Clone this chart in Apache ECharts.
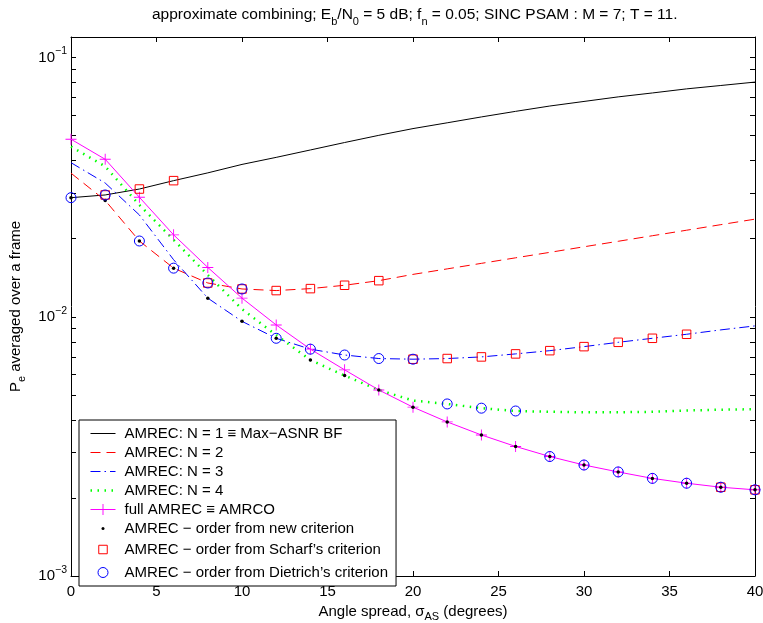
<!DOCTYPE html>
<html><head><meta charset="utf-8">
<script src="https://cdn.jsdelivr.net/npm/echarts@6/dist/echarts.min.js"></script>
<style>html,body{margin:0;padding:0;background:#fff}#c{width:763px;height:623px}</style>
</head><body><div id="c"></div>
<script>
const angleSpread = [0,2,4,6,8,10,12,14,16,18,20,22,24,26,28,30,32,34,36,38,40];
const amrecN1 = [0.0288,0.0295,0.0311,0.0335,0.0359,0.0387,0.0412,0.0440,0.0470,0.0501,0.0532,0.0560,0.0590,0.0620,0.0650,0.0677,0.0705,0.0730,0.0757,0.0780,0.0804];
const amrecN2 = [0.0358,0.0281,0.0196,0.0154,0.0135,0.0128,0.01262,0.01284,0.01323,0.01378,0.01457,0.0153,0.01607,0.01688,0.01772,0.01862,0.01955,0.02054,0.02157,0.02266,0.0238];
const amrecN3 = [0.0393,0.0328,0.0247,0.0166,0.0118,0.0096,0.00826,0.0075,0.00712,0.0069,0.00686,0.0069,0.0070,0.00719,0.0074,0.00767,0.00797,0.00826,0.00856,0.0089,0.00922];
const amrecN4 = [0.0453,0.0380,0.0270,0.0198,0.0145,0.0107,0.0085,0.00681,0.00593,0.00522,0.00475,0.00461,0.00444,0.00433,0.0043,0.00428,0.00428,0.0043,0.00435,0.00438,0.0044];
const amrecFull = [0.0484,0.0405,0.0289,0.0207,0.0155,0.0118,0.0093,0.0075,0.00624,0.00522,0.00448,0.00393,0.0035,0.00316,0.00289,0.00268,0.00252,0.00238,0.00228,0.0022,0.00215];
const orderNew = [0.0288,0.0281,0.0196,0.0154,0.0118,0.0096,0.00826,0.00681,0.00593,0.00522,0.00448,0.00393,0.0035,0.00316,0.00289,0.00268,0.00252,0.00238,0.00228,0.0022,0.00215];
const orderScharf = [null,0.0295,0.0311,0.0335,0.0135,0.0128,0.01262,0.01284,0.01323,0.01378,0.00686,0.0069,0.0070,0.00719,0.0074,0.00767,0.00797,0.00826,0.00856,0.0022,0.00215];
const orderDietrich = [0.0288,0.0295,0.0196,0.0154,0.0135,0.0128,0.00826,0.0075,0.00712,0.0069,0.00686,0.00461,0.00444,0.00433,0.00289,0.00268,0.00252,0.00238,0.00228,0.0022,0.00215];
const yTickValues = [0.001,0.002,0.003,0.004,0.005,0.006,0.007,0.008,0.009,0.01,0.02,0.03,0.04,0.05,0.06,0.07,0.08,0.09,0.1];
const yLabelValues = [0.001,0.01,0.1];
const seriesNames = ['AMREC: N = 1 \u2261 Max\u2212ASNR BF','AMREC: N = 2','AMREC: N = 3','AMREC: N = 4','full AMREC \u2261 AMRCO','AMREC \u2212 order from new criterion','AMREC \u2212 order from Scharf\u2019s criterion','AMREC \u2212 order from Dietrich\u2019s criterion'];

const FONT = '"Liberation Sans", Arial, Helvetica, sans-serif';
const pairs = arr => angleSpread.map((x,i)=>[x,arr[i]]).filter(p=>p[1]!=null);
const plusPath = 'path://M0,5.5L12,5.5L12,6.5L0,6.5Z M5.5,0L6.5,0L6.5,12L5.5,12Z';

const lineSeries = (name, arr, color, type, width) => ({
  name, type:'line', data: pairs(arr), symbol:'none', showSymbol:false, clip:false,
  lineStyle:{color, width, type, cap:'butt'}, itemStyle:{color}, silent:true, z:2
});

const chart = echarts.init(document.getElementById('c'), null, {renderer:'canvas'});
chart.setOption({
  animation:false,
  backgroundColor:'#fff',
  textStyle:{fontFamily:FONT},
  title:{
    text:'approximate combining; E{s|b}/N{s|0} = 5 dB; f{s|n} = 0.05; SINC PSAM : M = 7; T = 11.',
    left:152, top:2, padding:0,
    textStyle:{fontSize:15.5, fontWeight:'normal', color:'#000', fontFamily:FONT,
      rich:{s:{fontSize:11, color:'#000', fontFamily:FONT, padding:[14,0,0,0]}}}
  },
  grid:{left:71, right:8, top:37, bottom:47, containLabel:false, outerBoundsMode:'none'},
  xAxis:[{
    type:'value', min:0, max:40, interval:5, position:'bottom',
    axisLine:{show:true, onZero:false, lineStyle:{color:'#000', width:1}},
    axisTick:{show:true, inside:true, length:5, lineStyle:{color:'#000'}},
    axisLabel:{fontSize:15, color:'#000', margin:8, fontFamily:FONT},
    splitLine:{show:false},
    name:'Angle spread, \u03c3{s|AS} (degrees)', nameLocation:'middle', nameGap:21,
    nameTextStyle:{fontSize:15, color:'#000', fontFamily:FONT,
      rich:{s:{fontSize:11, color:'#000', fontFamily:FONT, padding:[12,0,0,0]}}}
  },{
    type:'value', min:0, max:40, interval:5, position:'top',
    axisLine:{show:true, onZero:false, lineStyle:{color:'#000', width:1}},
    axisTick:{show:true, inside:true, length:5, lineStyle:{color:'#000'}},
    axisLabel:{show:false}, splitLine:{show:false}
  }],
  yAxis:[{
    type:'log', logBase:10, min:0.001, max:0.12, position:'left',
    axisLine:{show:true, onZero:false, lineStyle:{color:'#000', width:1}},
    axisTick:{show:true, inside:true, length:5, lineStyle:{color:'#000'}, customValues:yTickValues},
    axisLabel:{customValues:yLabelValues, margin:4, color:'#000', fontFamily:FONT,
      formatter: v => '{b|10}{s|\u2212' + Math.abs(Math.round(Math.log10(v))) + '}',
      rich:{b:{fontSize:15, color:'#000', fontFamily:FONT}, s:{fontSize:10.5, color:'#000', fontFamily:FONT, padding:[0,0,12,0]}}},
    splitLine:{show:false}, minorTick:{show:false},
    name:'P{s|e} averaged over a frame', nameLocation:'middle', nameGap:44, nameRotate:90,
    nameTextStyle:{fontSize:15, color:'#000', fontFamily:FONT,
      rich:{s:{fontSize:11, color:'#000', fontFamily:FONT, padding:[12,0,0,0]}}}
  },{
    type:'log', logBase:10, min:0.001, max:0.12, position:'right',
    axisLine:{show:true, onZero:false, lineStyle:{color:'#000', width:1}},
    axisTick:{show:true, inside:true, length:5, lineStyle:{color:'#000'}, customValues:yTickValues},
    axisLabel:{show:false}, splitLine:{show:false}
  }],
  legend:{
    show:true, orient:'vertical', left:79, top:420, padding:[6,8,4,9],
    itemWidth:25, itemHeight:14, itemGap:4, selectedMode:false,
    backgroundColor:'#fff', borderColor:'#000', borderWidth:1, borderRadius:0,
    textStyle:{fontSize:15, color:'#000', fontFamily:FONT, lineHeight:14, padding:[0,0,0,4]},
    itemStyle:{borderWidth:1}, lineStyle:{width:1},
    data:[
      {name:seriesNames[0], itemStyle:{opacity:0}},
      {name:seriesNames[1], itemStyle:{opacity:0}},
      {name:seriesNames[2], itemStyle:{opacity:0}},
      {name:seriesNames[3], itemStyle:{opacity:0}, lineStyle:{width:2.5}},
      {name:seriesNames[4], itemStyle:{borderWidth:0}},
      {name:seriesNames[5], icon:'path://M0,0M25,14M11,7A1.5,1.5,0,1,1,14,7A1.5,1.5,0,1,1,11,7Z', itemStyle:{borderWidth:0}},
      {name:seriesNames[6], icon:'path://M0,0M25,14M8.25,2.75L16.75,2.75L16.75,11.25L8.25,11.25Z'},
      {name:seriesNames[7], icon:'path://M0,0M25,14M7.5,7A5,5,0,1,1,17.5,7A5,5,0,1,1,7.5,7Z'}
    ]
  },
  series:[
    lineSeries(seriesNames[0], amrecN1, '#000000', 'solid', 1),
    lineSeries(seriesNames[1], amrecN2, '#ff0000', [10,6], 1),
    lineSeries(seriesNames[2], amrecN3, '#0000ff', [10,4,1.5,4], 1),
    lineSeries(seriesNames[3], amrecN4, '#00ff00', [1.5,5.5], 2.5),
    {name:seriesNames[4], type:'line', data:pairs(amrecFull), symbol:plusPath, symbolSize:11,
      showSymbol:true, showAllSymbol:true, clip:false, silent:true, z:3,
      lineStyle:{color:'#ff00ff', width:1}, itemStyle:{color:'#ff00ff', borderWidth:0}},
    {name:seriesNames[5], type:'scatter', data:pairs(orderNew), symbol:'circle', symbolSize:3.5,
      clip:false, silent:true, z:4, itemStyle:{color:'#000', borderWidth:0, opacity:1}},
    {name:seriesNames[6], type:'scatter', data:pairs(orderScharf), symbol:'rect', symbolSize:8.5,
      clip:false, silent:true, z:5, itemStyle:{color:'none', borderColor:'#ff0000', borderWidth:1, opacity:1}},
    {name:seriesNames[7], type:'scatter', data:pairs(orderDietrich), symbol:'circle', symbolSize:10,
      clip:false, silent:true, z:6, itemStyle:{color:'none', borderColor:'#0000ff', borderWidth:1, opacity:1}}
  ]
});
</script>
</body></html>
